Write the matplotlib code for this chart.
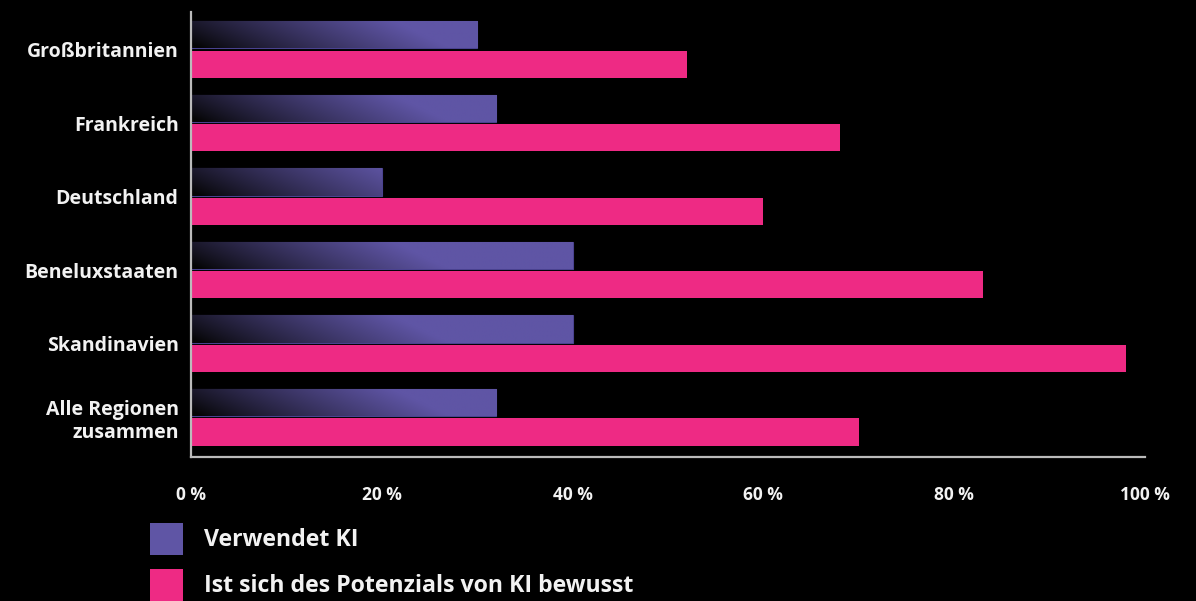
import numpy as np
import matplotlib.pyplot as plt
from matplotlib.patches import Patch

# Daten
regionen = ['Großbritannien', 'Frankreich', 'Deutschland', 'Beneluxstaaten',
            'Skandinavien', 'Alle Regionen\nzusammen']
verwendet_ki = [30, 32, 20, 40, 40, 32]
potenzial_ki = [52, 68, 60, 83, 98, 70]
xticks = [0, 20, 40, 60, 80, 100]
xtick_labels = ['0 %', '20 %', '40 %', '60 %', '80 %', '100 %']
legend_labels = ['Verwendet KI', 'Ist sich des Potenzials von KI bewusst']

lila = '#5f55a5'
pink = '#ee2a84'
weiss = '#f2f2f2'

plt.rcParams['font.family'] = ['Open Sans', 'DejaVu Sans']

fig = plt.figure(figsize=(11.96, 6.01), dpi=100, facecolor='black')
ax = fig.add_axes([0.1597, 0.2396, 0.7977, 0.7404])
ax.set_facecolor('black')

y = np.arange(len(regionen))
h = 0.37
off = 0.2

bars_lila = ax.barh(y - off, verwendet_ki, height=h, color=lila, edgecolor='#4a4290', linewidth=0.8)
ax.barh(y + off, potenzial_ki, height=h, color=pink)

# Farbverlauf auf den lila Balken (links dunkel)
lila_rgb = np.array([0x5f, 0x55, 0xa5]) / 255
for bar in bars_lila:
    x0, y0 = bar.get_x(), bar.get_y()
    w, hh = bar.get_width(), bar.get_height()
    xs = np.linspace(x0, x0 + w, 300)
    ys = np.linspace(0, 1, 30)
    X, Y = np.meshgrid(xs, ys)
    t = np.clip((X + 6 * (1 - Y) - 1) / 26, 0, 1) ** 0.85
    img = np.zeros(X.shape + (3,))
    for c in range(3):
        img[..., c] = 0.02 + t * (lila_rgb[c] - 0.02)
    im = ax.imshow(img, extent=(x0, x0 + w, y0 + hh, y0), origin='upper',
                   aspect='auto', zorder=2.5, interpolation='bilinear')
    im.set_clip_path(bar)

ax.set_xlim(0, 100)
ax.set_ylim(len(regionen) - 0.46, -0.51)
ax.set_xticks(xticks)
ax.set_xticklabels(xtick_labels)
ax.set_yticks(y)
ax.set_yticklabels(regionen, linespacing=1.2)

ax.tick_params(axis='x', length=0, pad=21, labelsize=12.5, labelcolor=weiss)
ax.tick_params(axis='y', length=0, pad=9, labelsize=14, labelcolor=weiss)
for lbl in ax.get_xticklabels() + ax.get_yticklabels():
    lbl.set_fontweight('bold')

for s in ['top', 'right']:
    ax.spines[s].set_visible(False)
for s in ['left', 'bottom']:
    ax.spines[s].set_color('#bbbbbb')
    ax.spines[s].set_linewidth(1.6)

handles = [Patch(facecolor=lila), Patch(facecolor=pink)]
leg = fig.legend(handles, legend_labels, loc='upper left',
                 bbox_to_anchor=(150 / 1196, 1 - 523 / 601), frameon=False,
                 fontsize=16.7, handlelength=1.42, handleheight=1.72,
                 handletextpad=0.9, labelspacing=0.62, borderpad=0,
                 borderaxespad=0)
for txt in leg.get_texts():
    txt.set_color(weiss)
    txt.set_fontweight('bold')

fig.savefig('out.png', dpi=100, facecolor='black')
